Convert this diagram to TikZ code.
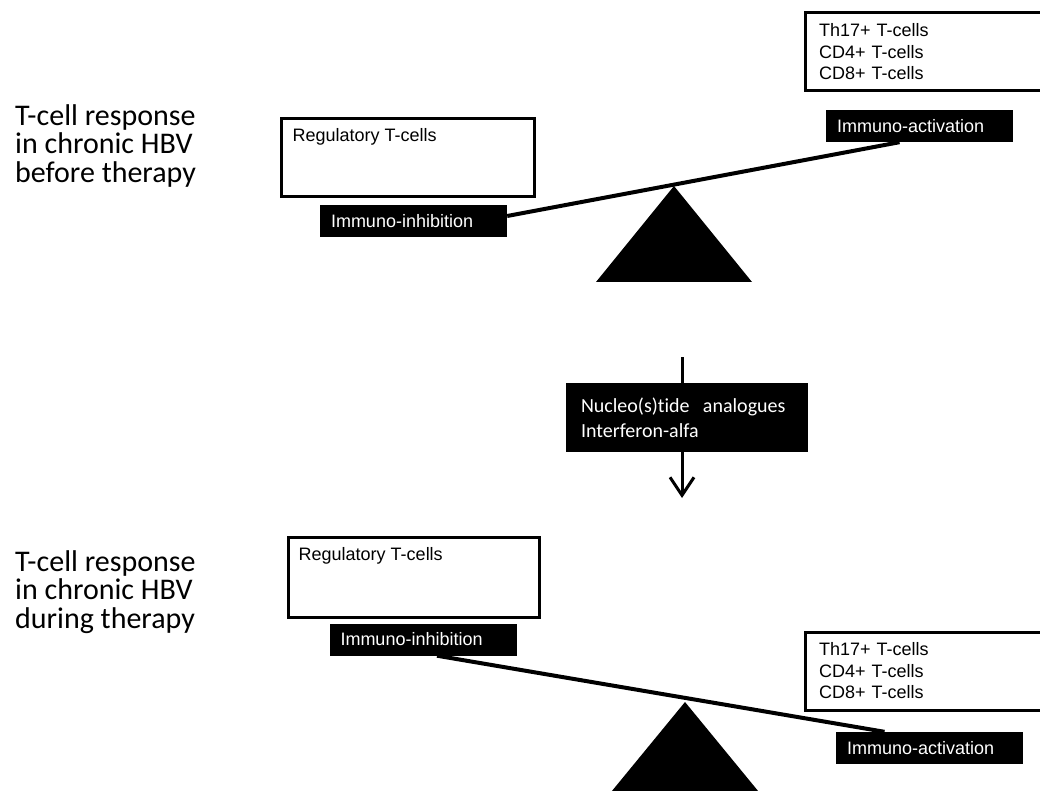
\documentclass[tikz,border=0pt]{standalone}
\usepackage{fontspec}
\setmainfont{Liberation Sans}
\newfontfamily\calibri[Ligatures=NoCommon]{Carlito}
\usetikzlibrary{arrows.meta,positioning,calc}
\definecolor{inkblack}{HTML}{000000}
\tikzset{
  cellbox/.style={draw=inkblack, line width=3pt, fill=white, inner sep=0pt},
  cellset/.style={draw=inkblack, line width=3pt, fill=white, inner xsep=14pt, inner ysep=0pt,
                  minimum width=250pt, minimum height=78pt, text width=222pt, align=left,
                  font=\fontsize{18}{21.5}\selectfont},
  celltext/.style={inner sep=0pt, font=\fontsize{18}{21.5}\selectfont},
  tagbox/.style={fill=inkblack, text=white, inner xsep=11pt, inner ysep=0pt,
                 minimum width=187pt, minimum height=32pt, text width=165pt, align=left,
                 font=\fontsize{18}{21.5}\selectfont},
  drugbox/.style={fill=inkblack, text=white, inner xsep=15pt, inner ysep=0pt,
                  minimum width=242pt, minimum height=69pt, text width=212pt, align=left,
                  font=\calibri\fontsize{20}{25}\selectfont},
  sidelabel/.style={inner sep=0pt, align=left, font=\calibri\fontsize{30}{28.5}\selectfont},
  beam/.style={line width=4pt, draw=inkblack},
  fulcrum/.style={fill=inkblack},
  arr/.style={-{Straight Barb[length=18pt, width=24pt]}, line width=3pt, draw=inkblack}}
\begin{document}
\begin{tikzpicture}[x=1pt, y=-1pt]
  \useasboundingbox (0,0) rectangle (1040,791);
  \clip (0,0) rectangle (1040,791);
  % before therapy
  \node[sidelabel, anchor=west] (before) at (15,146)
    {T-cell response\\in chronic HBV\\before therapy};
  \node[cellbox, minimum width=253pt, minimum height=78pt] (regA) at (407.5,158) {};
  \node[celltext, anchor=west] (regAtxt) at ([shift={(13,19)}]regA.north west) {Regulatory T-cells};
  \node[cellset] (effA) at (930,52) {Th17+ T-cells\\CD4+ T-cells\\CD8+ T-cells};
  \node[tagbox] (inhA) at (413.5,221) {Immuno-inhibition};
  \node[tagbox] (actA) at (919.5,126) {Immuno-activation};
  \draw[beam] ([yshift=5pt]inhA.east) -- ([xshift=-20pt]actA.south);
  \fill[fulcrum] (674,186) -- (596,282) -- (752,282) -- cycle;
  % the treatment
  \coordinate (drugtop) at (682,357);
  \coordinate (drugbot) at (682,498);
  \draw[arr] (drugtop) -- (drugbot);
  \node[drugbox] (drugs) at (687,417.5) {Nucleo(s)tide\ \ analogues\\Interferon-alfa};
  % during therapy
  \node[sidelabel, anchor=west] (during) at (15,592)
    {T-cell response\\in chronic HBV\\during therapy};
  \node[cellbox, minimum width=251pt, minimum height=80pt] (regB) at (413.5,577) {};
  \node[celltext, anchor=west] (regBtxt) at ([shift={(12,20)}]regB.north west) {Regulatory T-cells};
  \node[cellset] (effB) at (930,671) {Th17+ T-cells\\CD4+ T-cells\\CD8+ T-cells};
  \node[tagbox] (inhB) at (423,639.5) {Immuno-inhibition};
  \node[tagbox] (actB) at (929.5,748) {Immuno-activation};
  \draw[beam] ([xshift=14pt]inhB.south) -- ([xshift=-45pt]actB.north);
  \fill[fulcrum] (685,702) -- (607,797) -- (763,797) -- cycle;
\end{tikzpicture}
\end{document}
